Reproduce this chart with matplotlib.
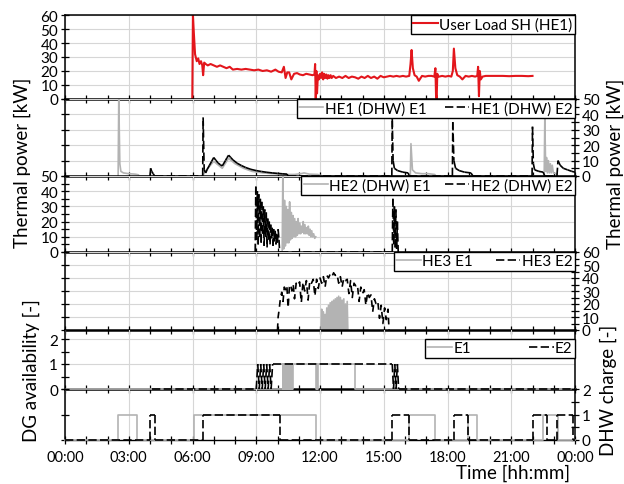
import numpy as np
import matplotlib
matplotlib.use("Agg")
import matplotlib.pyplot as plt
from matplotlib.ticker import MultipleLocator, FixedLocator
from matplotlib.collections import LineCollection
from matplotlib.lines import Line2D

plt.rcParams['font.family'] = ['Lato', 'DejaVu Sans']

# ---------------- data (time in hours, values in kW or -) ----------------
# User load space heating (HE1)
sh_load = [(5.99, 0), (6.02, 60), (6.06, 48), (6.12, 32), (6.20, 27), (6.27, 29), (6.33, 25),
           (6.40, 27), (6.46, 24), (6.50, 17), (6.55, 26), (6.62, 25), (6.72, 24), (6.85, 25),
           (7.00, 24), (7.15, 23), (7.30, 24), (7.45, 23), (7.60, 22), (7.75, 23), (7.90, 21),
           (8.10, 21.5), (8.30, 21), (8.50, 21.5), (8.70, 21), (8.90, 20.5), (9.10, 21), (9.30, 20),
           (9.50, 20.5), (9.70, 19.5), (9.90, 21), (10.05, 19.5), (10.20, 19), (10.30, 23), (10.38, 15),
           (10.46, 19), (10.55, 19), (10.65, 14), (10.78, 18), (10.92, 18.5), (11.05, 17.5), (11.20, 17),
           (11.35, 18), (11.50, 17.5), (11.65, 17), (11.74, 17.5), (11.77, 25), (11.80, 0), (11.83, 20),
           (11.86, 4), (11.90, 17), (11.95, 14), (12.00, 18), (12.05, 15), (12.10, 19), (12.15, 14),
           (12.20, 18), (12.25, 15), (12.30, 17.5), (12.35, 14.5), (12.40, 17), (12.45, 15), (12.50, 17),
           (12.55, 15), (12.62, 16.5), (12.75, 15), (12.90, 16), (13.05, 15), (13.20, 16.5), (13.35, 15),
           (13.50, 16), (13.65, 15.5), (13.80, 14.5), (13.95, 16), (14.10, 15), (14.25, 16.5), (14.40, 15),
           (14.55, 16), (14.70, 14.5), (14.85, 16.5), (15.00, 15.5), (15.15, 16), (15.30, 16.5),
           (15.45, 16), (15.60, 16.5), (15.75, 16), (15.90, 16.5), (16.05, 16), (16.20, 16.5),
           (16.26, 25), (16.31, 35), (16.37, 22), (16.45, 17), (16.55, 16), (16.65, 13), (16.80, 16.5),
           (16.95, 16), (17.10, 16.5), (17.25, 16.5), (17.38, 16), (17.43, 22), (17.46, 3), (17.49, 0),
           (17.52, 18), (17.55, 16), (17.60, 16), (17.75, 16.5), (17.90, 16), (18.05, 16.5), (18.18, 16),
           (18.25, 20), (18.30, 36), (18.37, 22), (18.46, 17), (18.58, 16), (18.70, 14), (18.85, 16.5),
           (19.00, 16), (19.15, 16.5), (19.30, 16), (19.40, 16.5), (19.44, 23), (19.48, 2), (19.52, 20),
           (19.57, 14), (19.65, 16), (19.80, 16.5), (20.00, 16.5), (20.30, 16.5), (20.60, 16.5),
           (20.90, 16.3), (21.20, 16.5), (21.50, 16.5), (21.80, 16.3), (22.00, 16.5)]

# HE1 domestic hot water, engine 1 and engine 2
he1_e1 = [(2.50, 0), (2.53, 50), (2.58, 8), (2.63, 3), (2.75, 2), (3.00, 1.5), (3.30, 1.2),
          (3.45, 0.8), (3.50, 0),
          (6.45, 0), (6.52, 1), (6.60, 3), (7.00, 9.5), (7.40, 5), (7.70, 11.5), (8.00, 8),
          (8.40, 5), (8.80, 3), (9.30, 2), (9.80, 1.5), (10.30, 1), (10.80, 1), (11.10, 1.5),
          (11.25, 2), (11.50, 1.2), (11.90, 1), (12.10, 0),
          (16.25, 0), (16.28, 21), (16.35, 4), (16.50, 2), (16.80, 1.5), (17.10, 1.5), (17.40, 1),
          (17.45, 0),
          (22.55, 0), (22.58, 38), (22.62, 3), (22.66, 12), (22.70, 2), (22.75, 10), (22.79, 2),
          (22.84, 8), (22.88, 2), (22.93, 7), (22.98, 2), (23.10, 1.5), (23.20, 0)]
he1_e2 = [(4.00, 0), (4.03, 5), (4.08, 3), (4.15, 1.5), (4.22, 0),
          (6.48, 0), (6.50, 38), (6.55, 4), (6.62, 2), (6.70, 4.5), (6.80, 7), (6.90, 9.5),
          (7.00, 12), (7.10, 10.2), (7.20, 8.5), (7.30, 7.4), (7.40, 6.5), (7.55, 10), (7.62, 11.8),
          (7.70, 13.5), (7.80, 12), (7.90, 10.5), (8.10, 8.3), (8.30, 6.8), (8.50, 5.5), (8.75, 4.3),
          (9.00, 3.5), (9.25, 2.9), (9.50, 2.4), (9.75, 2.0), (10.00, 1.7), (10.25, 1.4),
          (10.45, 1.2), (10.50, 0),
          (15.38, 0), (15.40, 37), (15.44, 10), (15.50, 5), (15.65, 3.5), (15.90, 2.5), (16.15, 2),
          (16.20, 0),
          (18.23, 0), (18.25, 35), (18.30, 10), (18.38, 5), (18.55, 3.5), (18.80, 2.5), (19.10, 2),
          (19.20, 0),
          (21.98, 0), (22.00, 32), (22.04, 8), (22.10, 4), (22.30, 3), (22.50, 2.5), (22.58, 0),
          (23.15, 0), (23.20, 10), (23.30, 7), (23.45, 5), (23.65, 4), (23.85, 3), (24.00, 2.5)]

# HE2 domestic hot water, engine 1 and engine 2
he2_e1 = [(10.22, 0), (10.25, 50), (10.29, 2), (10.33, 34), (10.37, 4), (10.41, 30), (10.45, 6),
          (10.49, 28), (10.53, 6), (10.57, 33), (10.61, 8), (10.65, 26), (10.69, 9), (10.73, 24),
          (10.77, 10), (10.81, 22), (10.85, 10), (10.89, 20), (10.93, 11), (10.97, 22), (11.01, 12),
          (11.05, 19), (11.09, 12), (11.13, 17), (11.17, 13), (11.21, 20), (11.25, 12), (11.29, 18),
          (11.33, 12), (11.37, 16), (11.41, 12), (11.45, 17), (11.49, 11), (11.53, 15), (11.57, 10),
          (11.61, 14), (11.65, 10), (11.70, 12), (11.75, 9), (11.80, 10)]
he2_e2 = [(8.95, 0), (8.98, 43), (9.02, 8), (9.05, 40), (9.09, 5), (9.12, 38), (9.16, 10),
          (9.19, 35), (9.23, 6), (9.26, 33), (9.30, 12), (9.33, 30), (9.37, 4), (9.40, 28),
          (9.44, 10), (9.47, 26), (9.51, 3), (9.54, 22), (9.58, 8), (9.61, 20), (9.65, 5), (9.68, 18),
          (9.72, 9), (9.75, 16), (9.79, 4), (9.82, 15), (9.86, 7), (9.89, 14), (9.93, 5), (9.96, 12),
          (10.00, 6), (10.03, 15), (10.07, 8), (10.10, 0),
          (15.40, 0), (15.43, 35), (15.47, 5), (15.50, 30), (15.54, 3), (15.57, 28), (15.61, 2),
          (15.64, 20), (15.68, 0)]

# HE3, engine 1 and engine 2
he3_e1 = [(12.05, 0), (12.08, 16), (12.11, 0), (12.16, 14), (12.19, 0), (12.24, 12), (12.27, 0),
          (12.32, 17), (12.35, 0), (12.40, 19), (12.43, 0), (12.48, 21), (12.51, 0), (12.56, 22),
          (12.59, 0), (12.64, 23), (12.67, 0), (12.72, 24), (12.75, 0), (12.80, 25), (12.83, 0),
          (12.88, 26), (12.91, 0), (12.96, 25), (12.99, 0), (13.04, 23), (13.07, 0), (13.12, 24),
          (13.15, 0), (13.20, 20), (13.23, 0), (13.28, 22), (13.31, 0)]
he3_e2 = [(10.00, 0), (10.03, 10), (10.08, 16), (10.14, 25), (10.20, 29), (10.26, 22), (10.32, 33),
          (10.38, 31), (10.44, 34), (10.50, 17), (10.56, 33), (10.62, 35), (10.68, 30), (10.74, 35),
          (10.80, 24), (10.88, 36), (10.96, 34), (11.04, 37), (11.12, 21), (11.20, 37), (11.28, 30),
          (11.36, 38), (11.44, 23), (11.52, 38), (11.60, 36), (11.68, 39), (11.76, 26), (11.84, 39),
          (11.92, 32), (12.00, 40), (12.08, 36), (12.16, 41), (12.24, 33), (12.32, 42), (12.40, 40),
          (12.48, 43), (12.56, 41), (12.64, 44), (12.72, 42), (12.80, 43), (12.88, 36), (12.96, 41),
          (13.04, 33), (13.12, 40), (13.20, 38), (13.28, 39), (13.36, 28), (13.44, 38), (13.52, 25),
          (13.60, 36), (13.68, 34), (13.76, 35), (13.84, 22), (13.92, 33), (14.00, 28), (14.08, 31),
          (14.16, 19), (14.24, 29), (14.32, 25), (14.40, 27), (14.48, 14), (14.56, 24), (14.64, 20),
          (14.72, 22), (14.80, 9), (14.88, 19), (14.96, 5), (15.04, 17), (15.12, 8), (15.20, 16),
          (15.25, 0)]

# DG availability: E1 as state switches (step after), E2 as sampled trace
dg_e1 = [(0.00, 0), (10.25, 1), (10.28, 0), (10.31, 1), (10.34, 0), (10.37, 1), (10.40, 0),
         (10.43, 1), (10.46, 0), (10.49, 1), (10.52, 0), (10.55, 1), (10.58, 0), (10.61, 1),
         (10.64, 0), (10.67, 1), (10.70, 0), (10.73, 1), (11.80, 0), (11.85, 1), (11.88, 0),
         (11.92, 1), (13.65, 0), (24.00, 0)]
dg_e2 = [(4.10, 0), (9.00, 0), (9.07, 1), (9.14, 0), (9.21, 1), (9.28, 0), (9.35, 1), (9.42, 0),
         (9.49, 1), (9.56, 0), (9.63, 1), (9.70, 0), (9.77, 1), (15.40, 1), (15.46, 0), (15.52, 1),
         (15.58, 0), (15.64, 1), (15.70, 0), (24.00, 0)]

# DHW charge (state switches, step after)
dhw_e1 = [(0.00, 0), (2.50, 1), (3.37, 0), (6.07, 1), (11.80, 0), (16.20, 1), (17.40, 0),
          (18.97, 1), (19.40, 0), (22.50, 1), (23.20, 0), (24.00, 0)]
dhw_e2 = [(0.00, 0), (4.00, 1), (4.23, 0), (6.50, 1), (10.10, 0), (15.40, 1), (16.20, 0),
          (18.30, 1), (18.97, 0), (22.00, 1), (22.70, 0), (23.15, 1), (23.90, 0), (24.00, 0)]

hour_ticks = [0, 3, 6, 9, 12, 15, 18, 21, 24]
hour_labels = ['00:00', '03:00', '06:00', '09:00', '12:00', '15:00', '18:00', '21:00', '00:00']

# ---------------- styles ----------------
RED = '#e3161c'
GREY = '#b3b3b3'
DASH = (0, (5, 2))
GRID = '#d6d6d6'
LW = 1.2


def xy(points):
    t, v = zip(*points)
    return np.array(t), np.array(v)


def step_vertices(points):
    """Expand (time, state) switches into a step-after polyline."""
    t, v = xy(points)
    tt = np.repeat(t, 2)[1:]
    vv = np.repeat(v, 2)[:-1]
    return tt, vv


def dashed_segments(ax, t, v, **kw):
    """Black dashed trace where the dash pattern restarts on every segment."""
    pts = np.column_stack([t, v])
    segs = np.stack([pts[:-1], pts[1:]], axis=1)
    lc = LineCollection(segs, colors='black', linewidths=LW, linestyles=[DASH], **kw)
    ax.add_collection(lc)
    return lc


fig = plt.figure(figsize=(6.24, 4.85), dpi=100)
gs = fig.add_gridspec(6, 1, height_ratios=[84, 77, 76, 78, 59, 51], hspace=0,
                      left=65 / 624, right=575 / 624, top=1 - 16 / 485, bottom=1 - 441 / 485)
axes = [fig.add_subplot(gs[i]) for i in range(6)]
for a in axes[1:]:
    a.sharex(axes[0])

for i, ax in enumerate(axes):
    ax.set_facecolor('none')
    ax.set_xlim(0, 24)
    ax.xaxis.set_major_locator(FixedLocator(hour_ticks))
    ax.xaxis.set_minor_locator(MultipleLocator(1))
    ax.grid(True, which='major', color=GRID, lw=0.8, zorder=0)
    ax.set_axisbelow(True)
    ax.tick_params(axis='both', which='both', direction='inout', length=6, width=0.9,
                   colors='black', labelsize=11, pad=2, top=False)
    ax.tick_params(axis='x', which='both', labelbottom=(i == 5))
    for s in ax.spines.values():
        s.set_color('black')
        s.set_linewidth(1.1)
    if i > 0:
        ax.spines['top'].set_visible(False)
    ax.spines['bottom'].set_linewidth(1.0 if i == 5 else 1.8)

axes[5].set_xticks(hour_ticks)
axes[5].set_xticklabels(hour_labels)
axes[5].tick_params(axis='x', labelsize=10.5, pad=4)

e1_handle = Line2D([], [], color=GREY, lw=LW)
e2_handle = Line2D([], [], color='black', lw=LW, ls=DASH)

# ---- panel 1: space heating load
ax = axes[0]
t, v = xy(sh_load)
ax.plot(t, v, color=RED, lw=1.5, label='User Load SH (HE1)')
ax.set_ylim(0, 60)
ax.yaxis.set_major_locator(MultipleLocator(10))
ax.tick_params(axis='y', left=True, right=False, labelleft=True)

# ---- panel 2: HE1 DHW
ax = axes[1]
t, v = xy(he1_e1)
ax.plot(t, v, color=GREY, lw=LW)
t, v = xy(he1_e2)
dashed_segments(ax, t, v)
ax.set_ylim(0, 50)
ax.yaxis.set_major_locator(MultipleLocator(10))
ax.yaxis.set_minor_locator(MultipleLocator(5))
ax.tick_params(axis='y', which='both', left=True, right=True, labelleft=False, labelright=True)
ax.tick_params(axis='y', which='minor', left=False)

# ---- panel 3: HE2 DHW
ax = axes[2]
t, v = xy(he2_e1)
ax.plot(t, v, color=GREY, lw=LW)
t, v = xy(he2_e2)
dashed_segments(ax, t, v)
ax.set_ylim(0, 50)
ax.yaxis.set_major_locator(MultipleLocator(10))
ax.yaxis.set_minor_locator(MultipleLocator(5))
ax.tick_params(axis='y', which='both', left=True, right=False, labelleft=True, labelright=False)

# ---- panel 4: HE3
ax = axes[3]
t, v = xy(he3_e1)
ax.plot(t, v, color=GREY, lw=LW)
t, v = xy(he3_e2)
ax.plot(t, v, color='black', lw=LW, ls=(0, (4, 3)))
ax.set_ylim(0, 60)
ax.yaxis.set_major_locator(MultipleLocator(10))
ax.yaxis.set_minor_locator(MultipleLocator(5))
ax.tick_params(axis='y', which='both', left=True, right=True, labelleft=False, labelright=True)
ax.tick_params(axis='y', which='minor', left=False)

# ---- panel 5: DG availability
ax = axes[4]
t, v = step_vertices(dg_e1)
ax.plot(t, v, color=GREY, lw=LW, zorder=3, clip_on=False)
t, v = xy(dg_e2)
dashed_segments(ax, t, v, zorder=3.1, clip_on=False)
ax.set_ylim(0, 2.36)
ax.set_yticks([0, 1, 2])
ax.yaxis.set_minor_locator(FixedLocator([0.5, 1.5]))
ax.tick_params(axis='y', which='both', left=True, right=False, labelleft=True, labelright=False)

# ---- panel 6: DHW charge
ax = axes[5]
t, v = step_vertices(dhw_e1)
ax.plot(t, v, color=GREY, lw=LW, zorder=3, clip_on=False)
t, v = step_vertices(dhw_e2)
dashed_segments(ax, t, v, zorder=3.1, clip_on=False)
ax.set_ylim(0, 2)
ax.set_yticks([0, 1, 2])
ax.yaxis.set_minor_locator(FixedLocator([0.5, 1.5]))
ax.grid(False, axis='y')
ax.tick_params(axis='y', which='both', left=True, right=True, labelleft=False, labelright=True)
ax.tick_params(axis='y', which='minor', left=False)

# ---- legends
leg_kw = dict(loc='upper right', frameon=True, fancybox=False, framealpha=1, edgecolor='black',
              fontsize=11, borderpad=0.15, handletextpad=0.1, borderaxespad=0,
              handlelength=1.6)
l1 = axes[0].legend(bbox_to_anchor=(1, 1), **leg_kw)
l2 = axes[1].legend([e1_handle, e2_handle], ['HE1 (DHW) E1', 'HE1 (DHW) E2'],
                    bbox_to_anchor=(1, 1), ncol=2, columnspacing=1.2, **leg_kw)
l3 = axes[2].legend([e1_handle, e2_handle], ['HE2 (DHW) E1', 'HE2 (DHW) E2'],
                    bbox_to_anchor=(1, 1), ncol=2, columnspacing=0.9, **leg_kw)
l4 = axes[3].legend([e1_handle, e2_handle], ['HE3 E1', 'HE3 E2'],
                    bbox_to_anchor=(1, 1), ncol=2, columnspacing=1.5, **leg_kw)
l5 = axes[4].legend([e1_handle, e2_handle], ['E1', 'E2'],
                    bbox_to_anchor=(1, 2.0 / 2.36), ncol=2, columnspacing=3.8, **leg_kw)
for lg in (l1, l2, l3, l4, l5):
    lg.get_frame().set_linewidth(1.0)
    lg.set_zorder(10)

# ---- axis titles
lab_kw = dict(fontsize=13.5, rotation=90, ha='center', va='center')
fig.text(22 / 624, 1 - 163 / 485, 'Thermal power [kW]', **lab_kw)
fig.text(615 / 624, 1 - 164 / 485, 'Thermal power [kW]', **lab_kw)
fig.text(31 / 624, 1 - 371 / 485, 'DG availability [-]', **lab_kw)
fig.text(608 / 624, 1 - 390 / 485, 'DHW charge [-]', **lab_kw)
fig.text(570 / 624, 1 - 473 / 485, 'Time [hh:mm]', fontsize=13.5, ha='right', va='center')

fig.savefig('out.png', dpi=100)
